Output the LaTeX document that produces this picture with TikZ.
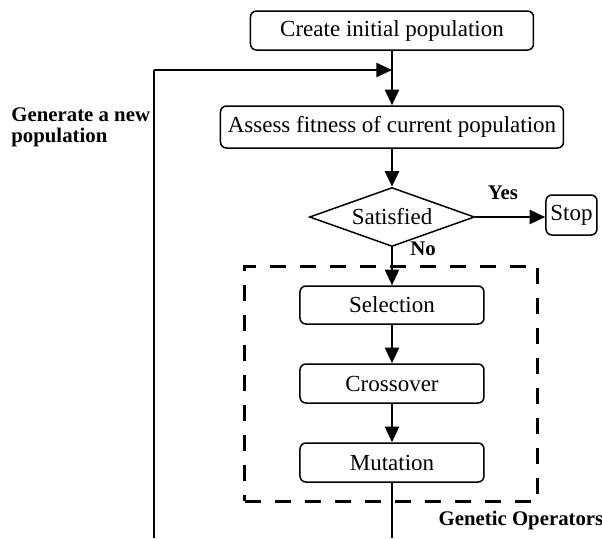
\documentclass[tikz,border=0pt]{standalone}
\usepackage{fontspec}
\setmainfont{Liberation Serif}
\usetikzlibrary{arrows.meta,shapes.geometric}

\tikzset{
  procbox/.style={draw, line width=0.75pt, rounded corners=3pt, inner sep=0pt,
    font=\fontsize{11.5}{13}\selectfont},
  decbox/.style={draw, diamond, line width=0.75pt, inner sep=0pt, aspect=2.8,
    font=\fontsize{11.5}{13}\selectfont},
  flow/.style={line width=1.15pt, -{Triangle[length=7.8pt,width=7pt]}},
  plainline/.style={line width=0.8pt},
  groupbox/.style={draw, line width=1.5pt, dash pattern=on 8pt off 7pt, inner sep=0pt},
  tag/.style={font=\fontsize{10.4}{10.6}\selectfont\bfseries, inner sep=0pt}
}

\begin{document}
\begin{tikzpicture}[x=0.5pt, y=-0.5pt]
  \useasboundingbox (0,0) rectangle (602,538);

  % main flow
  \node[procbox, minimum width=283*0.5pt, minimum height=39*0.5pt] (create) at (392,30.5) {Create initial population};
  \node[procbox, minimum width=343*0.5pt, minimum height=42*0.5pt] (assess) at (392,127) {Assess fitness of current population};
  \node[decbox, minimum width=165*0.5pt, minimum height=59*0.5pt] (sat) at (392,217) {Satisfied};
  \node[procbox, minimum width=51*0.5pt, minimum height=40*0.5pt] (stop) at (571.5,215) {Stop};

  % genetic operators group
  \node[groupbox, minimum width=293*0.5pt, minimum height=235*0.5pt] (ops) at (391.5,383.5) {};
  \node[procbox, minimum width=184*0.5pt, minimum height=38*0.5pt] (sel) at (392,305) {Selection};
  \node[procbox, minimum width=184*0.5pt, minimum height=39*0.5pt] (cross) at (392,383.5) {Crossover};
  \node[procbox, minimum width=184*0.5pt, minimum height=39*0.5pt] (mut) at (392,462.5) {Mutation};

  % labels
  \node[tag] (yes) at (503,193) {Yes};
  \node[tag] (no) at (423,249) {No};
  \node[tag] (gotag) at (521,520) {Genetic Operators};
  \node[tag, anchor=north west, align=left] (gentag) at (11,107) {Generate a new\\population};

  % loop-back coordinates
  \coordinate (merge) at (392,70);
  \coordinate (corner) at (154,70);
  \coordinate (loopL) at (154,538);
  \coordinate (loopR) at (392,538);

  % connectors
  \draw[flow] (create.south) -- (assess.north);
  \draw[flow] (assess.south) -- (sat.north);
  \draw[flow] (sat.east) -- (sat.east -| stop.west);
  \draw[flow] (sat.south) -- (sel.north);
  \draw[flow] (sel.south) -- (cross.north);
  \draw[flow] (cross.south) -- (mut.north);
  \draw[plainline] (mut.south) -- (loopR);
  \draw[plainline] (loopL) -- (corner);
  \draw[flow] (corner) -- (merge);
\end{tikzpicture}
\end{document}
